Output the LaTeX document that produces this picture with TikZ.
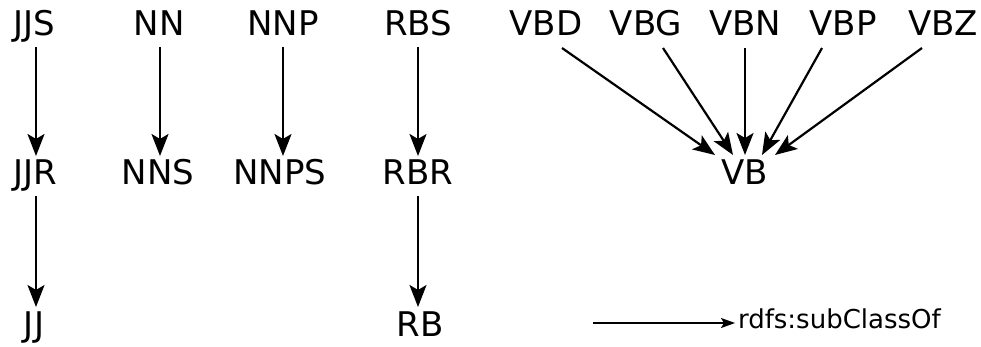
\documentclass[tikz,border=0pt]{standalone}
\usepackage{fontspec}
\setmainfont{DejaVu Sans}
\usetikzlibrary{arrows.meta}
\begin{document}
\begin{tikzpicture}[x=1pt,y=-1pt,
  lbl/.style={font=\fontsize{34}{40}\selectfont, inner sep=0pt, outer sep=0pt, text height=24pt, text depth=0pt, anchor=center},
  arr/.style={line width=2.2pt, -{Stealth[length=22pt,width=17pt,inset=5pt]}},
  vert/.style={arr, shorten <=11pt, shorten >=5pt}]
\useasboundingbox (0,0) rectangle (981,347);
\node[lbl] (JJS) at (34,24) {JJS};
\node[lbl] (JJR) at (35,173) {JJR};
\node[lbl] (JJ) at (34,324) {JJ};
\node[lbl] (NN) at (159,24) {NN};
\node[lbl] (NNS) at (158,173) {NNS};
\node[lbl] (NNP) at (283,24) {NNP};
\node[lbl] (NNPS) at (280,173) {NNPS};
\node[lbl] (RBS) at (418,24) {RBS};
\node[lbl] (RBR) at (418,173) {RBR};
\node[lbl] (RB) at (420,324) {RB};
\node[lbl] (VBD) at (546,24) {VBD};
\node[lbl] (VBG) at (646,24) {VBG};
\node[lbl] (VBN) at (745,24) {VBN};
\node[lbl] (VBP) at (843,24) {VBP};
\node[lbl] (VBZ) at (943,24) {VBZ};
\node[lbl] (VB) at (745,173) {VB};

\draw[vert] ([xshift=2pt]JJS.south) -- ([xshift=1pt]JJR.north);
\draw[vert] ([xshift=1pt]JJR.south) -- ([xshift=2pt]JJ.north);
\draw[vert] ([xshift=1pt]NN.south) -- ([xshift=2pt]NNS.north);
\draw[vert] (NNP.south) -- ([xshift=3pt]NNPS.north);
\draw[vert] (RBS.south) -- (RBR.north);
\draw[vert] (RBR.south) -- ([xshift=-2pt]RB.north);

\draw[arr] ([xshift=16pt,yshift=-12pt]VBD.south) -- ([xshift=-30pt,yshift=6pt]VB.north);
\draw[arr] ([xshift=17pt,yshift=-12pt]VBG.south) -- ([xshift=-12pt,yshift=6pt]VB.north);
\draw[arr] ([yshift=-12pt]VBN.south) -- ([yshift=6pt]VB.north);
\draw[arr] ([xshift=-21pt,yshift=-12pt]VBP.south) -- ([xshift=17pt,yshift=6pt]VB.north);
\draw[arr] ([xshift=-21pt,yshift=-12pt]VBZ.south) -- ([xshift=30pt,yshift=6pt]VB.north);

\node[font=\fontsize{26}{30}\selectfont, inner sep=0pt, outer sep=0pt, anchor=base west] (leg) at (738,328) {rdfs:subClassOf};
\coordinate (L1) at (593,323);
\draw[line width=1.8pt, -{Stealth[length=14pt,width=10pt,inset=3pt]}, shorten >=3pt] (L1) -- (L1 -| leg.west);
\end{tikzpicture}
\end{document}
